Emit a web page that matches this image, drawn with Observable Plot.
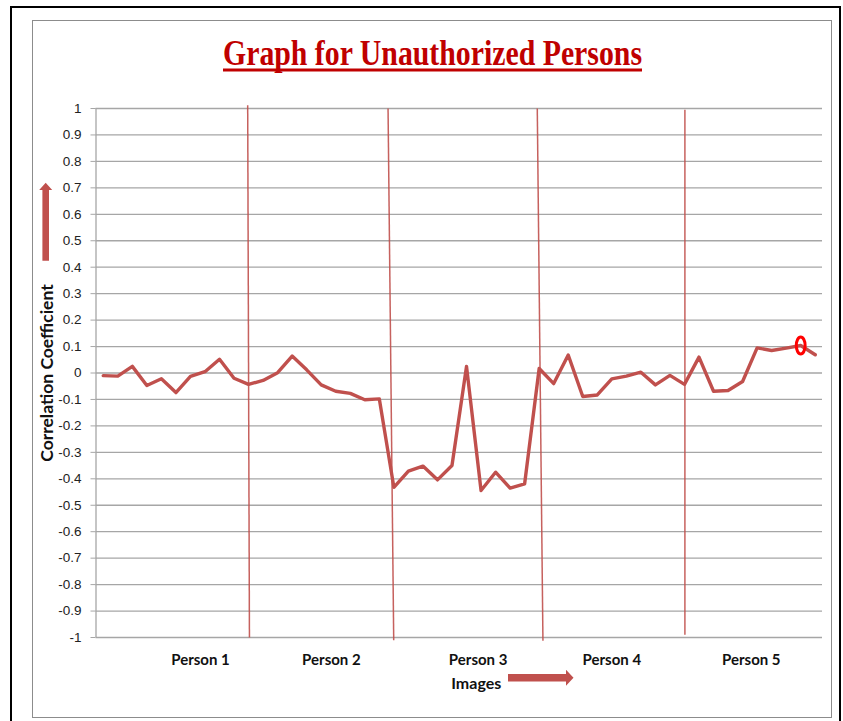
<!DOCTYPE html>
<html>
<head>
<meta charset="utf-8">
<script src="https://cdn.jsdelivr.net/npm/d3@7"></script>
<script src="https://cdn.jsdelivr.net/npm/@observablehq/plot@0.6"></script>
<style>
  html, body { margin: 0; padding: 0; background: #fff; }
  #wrap { position: relative; width: 843px; height: 721px; overflow: hidden; background: #fff; }
  #outer { position: absolute; left: 10px; top: 6px; width: 827px; height: 740px;
           border-top: 2px solid #000; border-left: 2px solid #000; border-right: 2px solid #000; }
  #inner { position: absolute; left: 32px; top: 20px; width: 798px; height: 696px;
           border: 1.5px solid #8c8c8c; }
  #chart, #overlay { position: absolute; left: 0; top: 0; }
</style>
</head>
<body>
<div id="wrap">
  <div id="outer"></div>
  <div id="inner"></div>
  <div id="chart"></div>
  <svg id="overlay" width="843" height="721"></svg>
</div>
<script>
// ---- data ----
const titleText = "Graph for Unauthorized Persons";
const yTitle = "Correlation Coefficient";
const xTitle = "Images";
const correlation = [
  -0.010, -0.012, 0.025, -0.047, -0.022, -0.074, -0.013, 0.005, 0.052, -0.020,
  -0.043, -0.028, 0.001, 0.064, 0.012, -0.045, -0.069, -0.077, -0.101, -0.098,
  -0.432, -0.371, -0.352, -0.404, -0.350, 0.025, -0.444, -0.375, -0.435, -0.419,
  0.017, -0.040, 0.068, -0.089, -0.083, -0.022, -0.012, 0.003, -0.045, -0.009,
  -0.043, 0.060, -0.069, -0.066, -0.032, 0.095, 0.085, 0.094, 0.104, 0.069
];
const personNames = ["Person 1", "Person 2", "Person 3", "Person 4", "Person 5"];
const personLabelPos = [6.69, 15.7, 25.8, 35.0, 44.6];
const separatorTopX = [9.94, 19.6, 29.87, 40.03];
const separatorBottomX = [10.06, 19.99, 30.26, 40.03];
const separatorTopY = [1.012, 1.0, 1.0, 0.995];
const separatorBottomY = [-1.0, -1.01, -1.012, -0.99];
const yTicks = [-1, -0.9, -0.8, -0.7, -0.6, -0.5, -0.4, -0.3, -0.2, -0.1, 0,
                0.1, 0.2, 0.3, 0.4, 0.5, 0.6, 0.7, 0.8, 0.9, 1];
const highlightIndex = 48;
const xTitlePos = 25.67;

// ---- derived tables ----
const points = correlation.map((v, i) => ({i, v}));
const separators = separatorTopX.map((x, k) => ({
  x1: x, x2: separatorBottomX[k], y1: separatorTopY[k], y2: separatorBottomY[k]
}));
const persons = personNames.map((name, k) => ({name, x: personLabelPos[k]}));

// ellipse symbol
const ellipse = {
  draw(context, size) {
    const r = Math.sqrt(size / Math.PI);
    const rx = r * 0.52, ry = r, k = 0.5523;
    context.moveTo(0, -ry);
    context.bezierCurveTo(k * rx, -ry, rx, -k * ry, rx, 0);
    context.bezierCurveTo(rx, k * ry, k * rx, ry, 0, ry);
    context.bezierCurveTo(-k * rx, ry, -rx, k * ry, -rx, 0);
    context.bezierCurveTo(-rx, -k * ry, -k * rx, -ry, 0, -ry);
    context.closePath();
  }
};

const red = "#c0504d";
const chart = Plot.plot({
  width: 843,
  height: 721,
  marginLeft: 95.5,
  marginRight: 21,
  marginTop: 108,
  marginBottom: 84,
  x: {domain: [-0.5, 49.5], axis: null},
  y: {domain: [-1, 1], axis: null},
  style: {background: "transparent", overflow: "visible"},
  marks: [
    Plot.ruleY(yTicks, {stroke: "#a6a6a6", strokeWidth: 1.3}),
    Plot.ruleX([-0.5], {stroke: "#a6a6a6", strokeWidth: 1.3}),
    Plot.axisY({
      ticks: yTicks,
      tickFormat: d => String(+d.toFixed(1)),
      tickSize: 5,
      tickPadding: 9.5,
      stroke: "#a6a6a6",
      fill: "#222",
      fontSize: 13.5,
      fontFamily: "Liberation Sans",
      label: null
    }),
    Plot.link(separators, {x1: "x1", y1: "y1", x2: "x2", y2: "y2", stroke: red, strokeWidth: 1.5, strokeOpacity: 0.9}),
    Plot.line(points, {x: "i", y: "v", stroke: red, strokeWidth: 3.4, strokeLinejoin: "round", strokeLinecap: "round"}),
    Plot.dot(points.filter(d => d.i === highlightIndex), {x: "i", y: "v", r: 8.5, symbol: ellipse, stroke: "#ff0000", strokeWidth: 3, fill: "none"}),
    Plot.text(persons, {x: "x", y: () => -1, dy: 23, text: "name", fontFamily: "Lato", fontWeight: "bold", fontSize: 15, fill: "#111"}),
    Plot.text([xTitle], {x: () => xTitlePos, y: () => -1, dy: 46, text: d => d, fontFamily: "Lato", fontWeight: "bold", fontSize: 16, fill: "#111"}),
    Plot.text([yTitle], {frameAnchor: "left", textAnchor: "middle", dx: -49, rotate: -90, text: d => d, fontFamily: "Lato", fontWeight: "bold", fontSize: 17.5, fill: "#111"})
  ]
});
document.getElementById("chart").appendChild(chart);

// ---- overlay: title and block arrows ----
const ov = d3.select("#overlay");
ov.append("text")
  .attr("x", 432.5).attr("y", 65)
  .attr("text-anchor", "middle")
  .attr("font-family", "Liberation Serif")
  .attr("font-weight", "bold")
  .attr("font-size", 35)
  .attr("fill", "#c00000")
  .attr("textLength", 419)
  .attr("lengthAdjust", "spacingAndGlyphs")
  .text(titleText);
ov.append("rect").attr("x", 223).attr("y", 68.5).attr("width", 419).attr("height", 3).attr("fill", "#c00000");

// vertical arrow (y axis)
ov.append("path")
  .attr("d", "M42.4,260.7 L49,260.7 L49,190 L52.2,190 L45.7,182.7 L39.2,190 L42.4,190 Z")
  .attr("fill", red);
// horizontal arrow (x axis)
ov.append("path")
  .attr("d", "M508,674 L566,674 L566,669.7 L573.5,677.7 L566,685.7 L566,681.4 L508,681.4 Z")
  .attr("fill", red);
</script>
</body>
</html>
